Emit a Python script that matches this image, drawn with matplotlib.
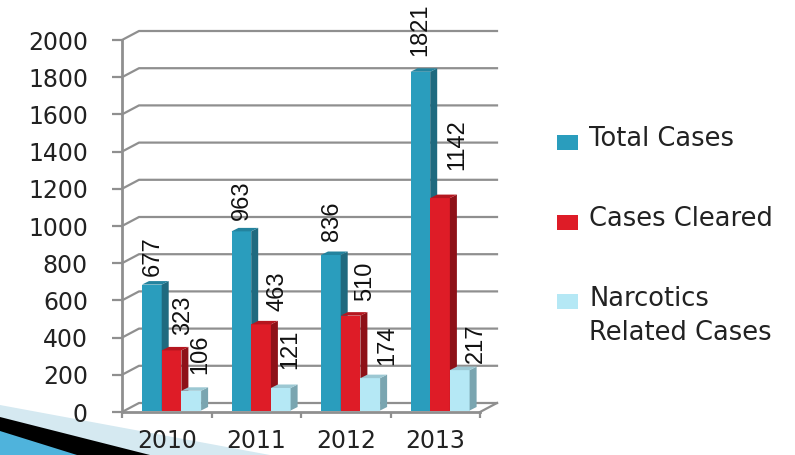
import numpy as np
import matplotlib
matplotlib.use('Agg')
import matplotlib.pyplot as plt
from matplotlib.patches import Polygon, Rectangle

years = ['2010', '2011', '2012', '2013']
total_cases = [677, 963, 836, 1821]
cases_cleared = [323, 463, 510, 1142]
narcotics_cases = [106, 121, 174, 217]
y_ticks = [0, 200, 400, 600, 800, 1000, 1200, 1400, 1600, 1800, 2000]

W, H = 795, 455
fig = plt.figure(figsize=(W / 100, H / 100), dpi=100)

# pixel axes for the slide decoration and the legend
bg = fig.add_axes([0, 0, 1, 1], zorder=0)
bg.set_xlim(0, W)
bg.set_ylim(H, 0)
bg.axis('off')
bg.add_patch(Polygon([(0, 405), (270, 455), (0, 455)], color='#d5e9f1', lw=0))
bg.add_patch(Polygon([(0, 417), (150, 455), (0, 455)], color='#000000', lw=0))
bg.add_patch(Polygon([(0, 431), (77, 455), (0, 455)], color='#4fb3dc', lw=0))

# main axes, front plane of the fake 3d box
left, right, top, bottom = 122, 480, 40, 412
ax = fig.add_axes([left / W, 1 - bottom / H, (right - left) / W, (bottom - top) / H],
                  zorder=1)
ax.patch.set_alpha(0)
ax.set_xlim(0, 4)
ax.set_ylim(0, 2000)

px_x = 4 / (right - left)
px_y = 2000 / (bottom - top)
grid_col = '#8f8f8f'

# back wall and floor
back_x, back_y = 17 * px_x, 9 * px_y
for v in y_ticks:
    ax.plot([0, back_x, 4 + back_x], [v, v + back_y, v + back_y],
            color=grid_col, lw=1.6, clip_on=False, zorder=1)
ax.plot([4, 4 + back_x], [0, back_y], color=grid_col, lw=1.6, clip_on=False, zorder=1)

series = [
    (total_cases, '#2a9dbd', '#1f6a7f', '#23839e', 'Total Cases'),
    (cases_cleared, '#de1c27', '#8e1118', '#b5161f', 'Cases Cleared'),
    (narcotics_cases, '#b5e8f5', '#7aa5b0', '#9cc8d3', 'Narcotics\nRelated Cases'),
]
# label shift from the bar centre / bar top, pixels
label_dx = [[1, 1, 1, 0], [12, 16, 15, 17], [9, 9, 17, 16]]
label_dy = [[9, 11, 14, 16], [15, 13, 15, 28], [17, 19, 13, 7]]

bar_w = 19.7 * px_x
bar_start = 20 * px_x
base = 1.5 * px_y
dep_x, dep_y = 7 * px_x, 3.5 * px_y
x = np.arange(len(years))

for i, (vals, col, side, cap, name) in enumerate(series):
    xs = x + bar_start + i * bar_w
    ax.bar(xs, vals, bar_w, bottom=base, align='edge', color=col, lw=0, zorder=3 + i)
    for k, (x0, v) in enumerate(zip(xs, vals)):
        t = v + base
        x1 = x0 + bar_w
        ax.add_patch(Polygon([(x1, base), (x1 + dep_x, base + dep_y), (x1 + dep_x, t + dep_y), (x1, t)],
                             color=side, lw=0, zorder=3 + i, clip_on=False))
        ax.add_patch(Polygon([(x0, t), (x0 + dep_x, t + dep_y), (x1 + dep_x, t + dep_y), (x1, t)],
                             color=cap, lw=0, zorder=3 + i, clip_on=False))
        ax.text(x0 + bar_w / 2 + label_dx[i][k] * px_x, t + label_dy[i][k] * px_y, str(v),
                rotation=90, ha='center', va='bottom', fontsize=17,
                family=['Liberation Sans', 'DejaVu Sans'], color='#111111',
                clip_on=False, zorder=10)

for s in ['top', 'right']:
    ax.spines[s].set_visible(False)
for s in ['left', 'bottom']:
    ax.spines[s].set_color(grid_col)
    ax.spines[s].set_linewidth(2)

ax.set_yticks(y_ticks)
ax.set_xticks(x + 0.5, years)
ax.set_xticks(np.arange(len(years) + 1), minor=True)
ax.tick_params(axis='y', length=7.5, width=1.6, color=grid_col, pad=17,
               labelsize=17, labelcolor='#222222')
ax.tick_params(axis='x', which='major', length=0, pad=12, labelsize=17, labelcolor='#222222')
ax.tick_params(axis='x', which='minor', length=4, width=1.6, color=grid_col)

# legend
legend_y = [142.5, 222, 301.5]
text_y = [139, 219, 316]
for (vals, col, side, cap, name), my, ty in zip(series, legend_y, text_y):
    bg.add_patch(Rectangle((557, my - 7.5), 21, 15, color=col, lw=0))
    bg.text(589, ty, name, fontsize=18.5, color='#222222', va='center', ha='left', linespacing=1.4)

fig.savefig('out.png', dpi=100)
